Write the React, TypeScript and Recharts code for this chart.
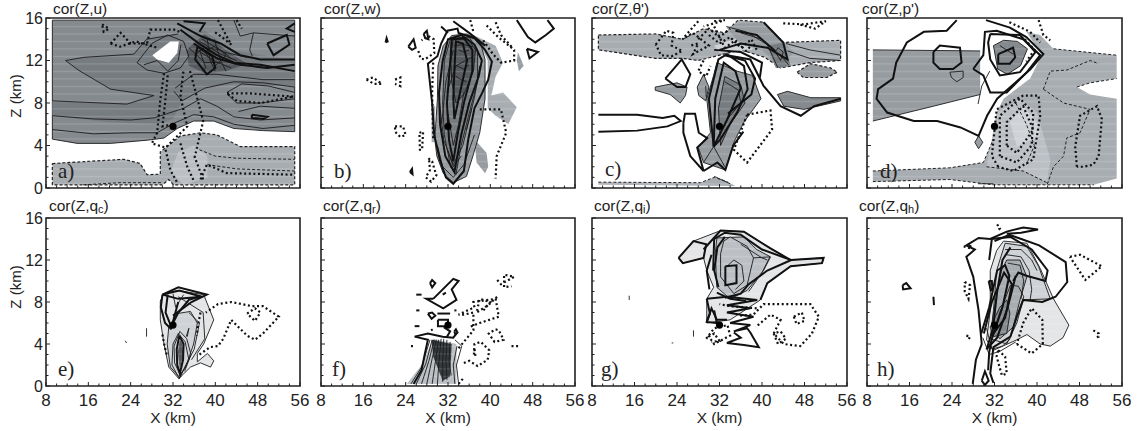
import React from 'react';
import { ScatterChart, Scatter, XAxis, YAxis, ReferenceArea } from 'recharts';

type P = [number, number];

// ---------- categories / ticks ----------
const xTicks = [8, 10, 12, 14, 16, 18, 20, 22, 24, 26, 28, 30, 32, 34, 36, 38, 40, 42, 44, 46, 48, 50, 52, 54, 56];
const xMajor = [8, 16, 24, 32, 40, 48, 56];
const zTicks = [0, 1, 2, 3, 4, 5, 6, 7, 8, 9, 10, 11, 12, 13, 14, 15, 16];
const zMajor = [0, 4, 8, 12, 16];
const stormCore: P[] = [[32, 5.8]];

// ---------- panel a: cor(Z,u) ----------
const aUpper: P[] = [[9.2, 15.8], [55, 15.8], [55, 5.3], [49.1, 5.4], [43.5, 5.6], [39.7, 6.3], [35.9, 6.3], [32.8, 5.6], [30.3, 4.7], [27.1, 4.5], [20.2, 4.2], [13.9, 4.2], [9.2, 4.6]];
const aBand: P[] = [[9.2, 8.2], [23.3, 7.9], [28.4, 8.7], [20.2, 9.3], [14.1, 11.1], [11.7, 12], [15.2, 12.3], [24.6, 12.6], [27, 14], [33, 14.5], [38, 14.8], [43, 13], [55, 12], [55, 9.5], [44, 9.8], [38, 9.4], [33.7, 8.2], [32, 6.5], [29, 6], [20, 6.2], [9.2, 6.8]];
const aCore: P[] = [[34.5, 13], [38, 14.5], [42, 13], [46, 11.7], [42, 11], [38, 10.8], [35, 11.5]];
const aHole: P[] = [[28.1, 12.5], [29.4, 13], [31.5, 13.8], [33.1, 13.8], [32.8, 12.7], [31.2, 11.8], [29, 12.1]];
const aLower: P[] = [[9.2, 2.3], [15.8, 2.5], [22.7, 2.7], [25.8, 2.3], [27.1, 1.25], [29.6, 1.3], [29.6, 3.4], [33.4, 4.9], [37.2, 5.2], [40.3, 5], [44.7, 3.9], [55, 3.9], [55, 0.3], [32.1, 0.3], [31.2, 0.8], [30, 0.3], [9.2, 0.3]];
const aLowerCore: P[] = [[33, 3.4], [36, 4], [38.5, 3], [38.5, 1], [34, 0.3], [31.5, 1.5]];
const aT1: P[] = [[9.2, 5.5], [17, 5.1], [24, 5.2], [29, 5.2], [32.2, 6.1], [35.9, 6.9], [39.7, 6.7], [43.5, 6], [49, 5.6], [55, 5.9]];
const aT2: P[] = [[9.2, 6.8], [17, 6.5], [24, 6.4], [28.4, 6.6], [30.9, 7], [34, 7.5], [37.2, 8.4], [40.3, 7.7], [43.5, 6.7], [48.5, 6.4], [55, 6.6]];
const aT3: P[] = [[9.2, 8.2], [23.3, 7.9], [28.4, 8.7], [20.2, 9.3], [14.1, 11.1], [11.7, 12], [15.2, 12.3], [24.6, 12.6], [27, 14], [33, 14.5]];
const aT4: P[] = [[25.2, 11.8], [27.1, 11.1], [30.3, 10.8], [33.4, 11.3], [35, 12.4], [34, 13.8], [31, 14.4], [28, 13.6], [25.2, 11.8]];
const aT5: P[] = [[32.2, 9.1], [33.7, 8.2], [38, 9.4], [43.5, 10], [49, 9.9], [55, 9.5]];
const aT6: P[] = [[32.4, 9.4], [35.9, 10.7], [40.3, 10.7], [49, 10.2], [55, 10.2]];
const aT7: P[] = [[42.2, 9], [45, 9.8], [50, 9.6], [55, 9]];
const aT8: P[] = [[42.4, 8.8], [44, 8], [48.5, 8], [55, 8.4]];
const aT9: P[] = [[44.4, 7.2], [48.5, 7.7], [55, 7.5]];
const aT10: P[] = [[43.5, 15.8], [44.7, 14.3], [47.2, 14.6], [46.5, 13], [47, 12.4]];
const aT11: P[] = [[47.2, 14.6], [55, 14.3]];
const aT12: P[] = [[26.5, 11.6], [29, 12], [31, 11], [33, 12], [33.5, 13.5]];
const aHatch1: P[] = [[37, 13.8], [41, 12.6], [44, 12]];
const aHatch2: P[] = [[36.5, 13.3], [40.5, 12.2], [44, 11.6]];
const aHatch3: P[] = [[36.5, 13], [40, 11.9], [43, 11.3]];
const aHatch4: P[] = [[37.5, 14], [41.5, 12.8], [46, 12.3]];
const aHatch5: P[] = [[38, 12.8], [40, 13.4], [42, 12.5], [40, 11.5], [38, 12.8]];
const aHatch6: P[] = [[36, 12.5], [38, 13.2], [41, 13], [43, 12.2]];
const aHatch7: P[] = [[35, 13.2], [38, 11.8], [41, 11.8]];
const aHatch8: P[] = [[38.5, 14], [39, 12], [40, 11]];
const aHatch9: P[] = [[39.8, 14], [41, 12], [42, 11]];
const aHatch10: P[] = [[37, 13], [38.2, 11.3], [37.5, 11]];
const aK1: P[] = [[32.8, 15.5], [37.2, 14.3], [41, 13.6], [44.7, 12.5], [48.5, 12.1], [55, 12.1]];
const aK2: P[] = [[33.4, 14.9], [37.2, 13.5], [40.3, 12.5], [43.5, 11.8], [48.5, 11.6], [55, 11]];
const aK3: P[] = [[35.9, 13.6], [40.3, 12.2], [44.7, 11.6], [49.8, 11.3], [55, 11.6]];
const aK4: P[] = [[36.6, 13.3], [36.2, 12.1], [38.4, 10.7], [40, 11.3], [39.4, 12.4], [36.6, 13.3]];
const aK5: P[] = [[49.8, 13.6], [53.5, 14.4], [54, 13.5], [51, 12.5], [49.8, 13.6]];
const aK6: P[] = [[46.9, 6.9], [49.8, 6.7], [49.1, 6.5], [46.9, 6.6], [46.9, 6.9]];
const aK7: P[] = [[55, 15.5], [53.5, 15], [55, 14.7]];
const aK8: P[] = [[34, 15.7], [38, 15.5], [37, 14.7]];
const aD1: P[] = [[18.6, 15.4], [19.9, 15], [18.9, 14.7], [18.6, 15.4]];
const aD2: P[] = [[20.2, 13.6], [22.1, 14.6], [24, 13.6], [27.1, 13.6], [27.7, 14.9], [32.2, 14.9], [33.7, 14.6]];
const aD3: P[] = [[20.2, 13.6], [22, 13.3], [25, 13.8], [29, 13.2]];
const aD4: P[] = [[30.3, 10.8], [29.6, 8.3], [29, 5.2], [28, 4.2], [30.6, 3.8], [34.7, 5.8], [33.4, 8.6], [34, 11.1]];
const aD5: P[] = [[31, 10.6], [30.5, 8], [30, 5.8], [32.2, 6]];
const aD6: P[] = [[35.2, 11], [36.4, 8.8], [37.7, 6.3], [36.1, 2.9], [37.7, 0.8]];
const aD7: P[] = [[30.6, 3.6], [31.5, 1.7], [32.8, 0.5]];
const aD8: P[] = [[33.4, 4.2], [34.7, 2], [36, 0.6]];
const aD9: P[] = [[37.2, 0.8], [38.4, 2.2], [42.2, 1.4], [55, 1.25]];
const aD10: P[] = [[42.2, 8.9], [46.6, 8.9], [54.8, 8.6], [48.5, 8], [44.1, 8.2], [42.2, 8.9]];
const aD11: P[] = [[40.5, 15.8], [42, 14.4], [43, 13.5], [41, 14.3], [39.8, 14.7]];
const aD12: P[] = [[44, 15.8], [45, 15]];
const aDash1: P[] = [[37, 3.6], [40, 3], [44, 2.8], [55, 2.7]];
const aDash2: P[] = [[38.5, 2.2], [44, 1.8], [55, 1.6]];
const aDash3: P[] = [[15, 0.3], [22, 0.5], [30, 0.5]];

// ---------- panel b: cor(Z,w) ----------
const bMain: P[] = [[32.7, 14.35], [35.5, 14.5], [38, 13.9], [39, 12.1], [39, 8.4], [38, 5.2], [36.7, 3], [35.5, 1.1], [33, 0.5], [31.1, 1.4], [29.9, 3], [29.5, 4.6], [30, 8.4], [30.1, 11.5], [31.1, 13.4]];
const bMid: P[] = [[32.5, 14.1], [36, 14.2], [37.6, 13], [37.6, 10], [36, 7], [34.5, 4], [33.5, 1.3], [32.5, 2], [31.3, 5], [31, 8], [31.3, 12]];
const bInner: P[] = [[33, 14], [35.8, 14], [37.2, 13], [36.8, 11], [35, 8.8], [33.5, 8], [32.7, 10], [32.5, 12.5]];
const bPale: P[] = [[36.8, 14.4], [41, 13.4], [42.4, 11.8], [41, 10.5], [40.2, 8.7], [42.4, 9], [45, 7.6], [43.4, 6], [41, 6.8], [39.5, 7.5], [39.5, 10], [39.5, 12], [38, 13.6]];
const bLobe: P[] = [[37, 4.6], [39.3, 3.3], [39.6, 2], [39, 1.4], [37.4, 2.4]];
const bStrip: P[] = [[28.9, 7.7], [29.6, 7.7], [29.4, 4.3], [28.9, 4.3]];
const bTip: P[] = [[45.2, 12.8], [46.3, 11.5], [45.4, 11], [45, 12]];
const bK1: P[] = [[28.5, 10.3], [28.2, 11.7], [30, 12.4], [30.7, 13.6], [31.9, 14.8], [33.8, 15], [34, 14.6], [37, 14.1], [39, 13], [40.3, 11.9], [39.6, 10.2], [38.5, 9], [37, 7.5], [35.8, 4.5], [35, 1.6], [33, 0.4], [31.6, 1], [30.5, 2.6], [29.4, 5], [29, 8], [28.5, 10.3]];
const bK2: P[] = [[31, 12], [32, 14], [34.5, 14.4], [37, 13.5], [38.4, 12], [37.8, 10.5], [36, 8], [34.5, 5], [33.2, 1.5], [31.5, 3], [30.5, 6], [30.3, 9], [31, 12]];
const bK3: P[] = [[32.5, 12.4], [32.7, 14], [35, 14.1], [36.6, 13], [36.6, 11], [35, 8], [33.8, 5], [33, 2.5], [32.2, 4.5], [31.8, 8], [32.5, 12.4]];
const bK4: P[] = [[33.3, 12], [33.5, 13.8], [34.8, 13.6], [35.6, 12], [34.5, 9.5], [33.2, 6.5], [33, 8.5], [33.3, 12]];
const bK5: P[] = [[33, 15.7], [36, 14.6], [39, 13.4]];
const bK6: P[] = [[30.7, 15.2], [32, 14.6]];
const bK7: P[] = [[45, 15.8], [47.1, 14.2], [48.5, 13.7], [50.5, 14.4], [52, 15], [50.8, 15.8]];
const bK8: P[] = [[24.5, 13.3], [25.5, 14], [25.9, 13.2], [25.2, 13], [24.5, 13.3]];
const bK9: P[] = [[27.4, 14.5], [28, 14.8], [28.3, 14], [27.7, 14.1], [27.4, 14.5]];
const bK10: P[] = [[46.9, 13.1], [49, 12.8], [47.4, 12.2], [46.9, 13.1]];
const bK11: P[] = [[24.8, 1.5], [25.2, 1.8], [25.3, 1.3], [24.8, 1.5]];
const bK12: P[] = [[20.2, 13.7], [20.4, 14.1], [20.6, 13.8], [20.2, 13.7]];
const bT1: P[] = [[31.8, 9], [33.5, 11.5], [36.8, 12.4]];
const bT2: P[] = [[30.8, 6], [31.6, 10], [33, 13]];
const bT3: P[] = [[35.5, 5.5], [37, 8.5], [38, 11.5]];
const bT4: P[] = [[32, 3.5], [33, 2], [34.5, 3]];
const bT5: P[] = [[34, 13], [35, 12.8], [36, 13]];
const bT6: P[] = [[33.6, 11.5], [35, 11.2], [36, 11.6]];
const bT7: P[] = [[33.5, 10.5], [34.5, 10.2], [35.5, 10]];
const bT8: P[] = [[33.2, 13.4], [35, 13.5], [36.6, 13.3]];
const bT9: P[] = [[32, 7], [33, 4], [34, 6], [35, 9]];
const bT10: P[] = [[30, 4], [31, 2], [33, 1], [35, 2.2], [37, 5]];
const bT11: P[] = [[30.4, 8], [31.2, 4.5], [33, 2.2], [34.8, 4], [36.5, 7.5]];
const bD1: P[] = [[26.4, 12.9], [26.8, 12.2], [27.6, 12.1], [29.4, 12.7], [29.3, 14], [28.3, 14.3], [27, 13.9]];
const bD2: P[] = [[16.6, 10.2], [17.8, 10.4], [19.5, 9.8], [18, 9.8], [16.6, 10.2]];
const bD3: P[] = [[22, 10.2], [23, 10.4], [23, 9.6], [22, 9.8]];
const bD4: P[] = [[22, 5.8], [23.5, 5.8], [24, 5], [23, 4.8], [22, 5.3], [22, 5.8]];
const bD5: P[] = [[26.6, 5.2], [27.3, 5.3], [27.1, 3.6], [26.7, 3.6], [26.6, 5.2]];
const bD6: P[] = [[28.3, 2.8], [29, 2.5], [29.8, 1.2], [28.8, 0.6], [27.8, 1], [28.6, 1.7], [28.4, 2.8]];
const bD7: P[] = [[36.2, 15.8], [36.8, 14.7]];
const bD8: P[] = [[39.3, 15.3], [41.5, 14.2], [44.5, 13], [44.5, 12], [42, 11.8], [40.5, 12.6], [38.5, 14]];
const bD9: P[] = [[41, 15.6], [42, 14.4], [44, 13.3]];
const bD10: P[] = [[38, 7.4], [42, 7.4], [43, 5.2], [41.2, 3], [41, 0.9]];
const bD11: P[] = [[29.2, 11.8], [29, 9], [29.2, 4.6]];

// ---------- panel c: cor(Z,theta') ----------
const cBand: P[] = [[9.2, 14.4], [20, 14.5], [25, 14], [29, 15], [33, 14.6], [35.5, 15.8], [40.3, 15.6], [44, 13.7], [54.8, 13.9], [54.8, 12], [49, 11.8], [43.5, 11.3], [40.5, 12.3], [36, 13], [32, 12.5], [28, 12], [25, 12.2], [20, 12.2], [9.2, 13]];
const cPaleGap: P[] = [[31, 13.4], [36, 14.2], [39.5, 14], [38, 13], [35, 12.9], [32, 12.7]];
const cTopDark: P[] = [[33.3, 15.1], [36, 15.5], [40, 15.5], [44, 13.7], [46, 12.8], [43.5, 11.3], [40, 13], [36, 13.5]];
const cRightDark: P[] = [[41, 13.4], [44.1, 13.7], [45.4, 11.5], [42.6, 11.3]];
const cEllipse: P[] = [[46.6, 10.9], [49.1, 11.7], [52.9, 11.3], [54.2, 10.9], [52.2, 10.4], [47.8, 10.4]];
const cWedgeL: P[] = [[19.9, 9.5], [24, 9.9], [25.9, 9.5], [25.6, 8.7], [24.6, 8], [22.7, 8.8], [19.9, 9.2]];
const cLeaf: P[] = [[27.8, 9.5], [29, 10.7], [30, 9.5], [29.4, 8.2], [28.1, 8.7]];
const cCoreFill: P[] = [[31.5, 11.8], [35.3, 11], [38.2, 10.6], [39.8, 8.4], [36.6, 6.2], [34.7, 4.3], [33.1, 1.7], [29, 2.4], [28, 3.8], [30.3, 5.2], [29.6, 8.4], [30.9, 10.6]];
const cCoreDark: P[] = [[33, 10.5], [36, 9.7], [36.8, 8], [34, 6], [32.2, 4], [31.8, 7.5]];
const cWedgeR: P[] = [[42.9, 8.8], [44.8, 9.1], [49.2, 8.5], [54.8, 8.5], [54.8, 8.2], [47.9, 7.4], [44.1, 7.7]];
const cBottom: P[] = [[9.2, 0.55], [28.4, 0.5], [31, 1], [33.5, 0.6], [35, 0.2], [9.2, 0.3]];
const cK1: P[] = [[9.2, 6.9], [16.5, 6.9], [21.3, 6.6], [23.5, 6.8], [24.7, 6.3], [22.2, 5.8], [16.5, 5.4], [9.2, 5.3]];
const cK2: P[] = [[25.2, 6.1], [25.5, 7], [27.4, 7], [28.1, 5.2], [29.7, 4.7], [27.8, 3.8], [29, 1.6], [26.5, 3], [25.2, 5.2], [25.2, 6.1]];
const cK3: P[] = [[29, 1.6], [31.6, 2.4], [33.1, 1.7], [34.6, 4], [36.5, 5.3]];
const cK4: P[] = [[21.8, 10.3], [24.9, 12.1], [26.5, 10.7], [25.6, 9.5], [24, 9.5], [21.8, 10.3]];
const cK5: P[] = [[30.9, 3.9], [30, 8.4], [31.8, 12.1], [33.4, 12.6], [36.6, 11.5], [37.3, 9.3], [35.3, 7.1], [32.2, 4.6], [30.9, 3.9]];
const cK6: P[] = [[30.9, 3.9], [31.2, 8.4], [32.8, 11.8], [35, 11], [36, 9.4], [33.4, 6.4], [30.9, 3.9]];
const cK7: P[] = [[33.4, 12.5], [37.8, 12.1], [40.3, 9.6], [43.5, 7.7], [47.3, 6.8], [49.8, 7.7], [54.8, 8.4]];
const cK8: P[] = [[33, 12.5], [36.8, 12], [38.7, 10.3], [38, 8.8], [33.6, 7]];
const cK9: P[] = [[40.3, 15.6], [44, 13.7], [44.8, 12.1], [41, 13.2], [36, 13.6], [32, 13]];
const cK10: P[] = [[31, 13], [36, 12.8], [40, 11.8], [39.6, 10.4]];
const cK11: P[] = [[35, 14.8], [39, 14.4], [42.5, 12.9]];
const cT1: P[] = [[33.3, 15.2], [37, 14.7], [41, 13.5], [43, 11.3]];
const cT2: P[] = [[36, 14.6], [40, 14], [44, 12.2], [45, 11.6]];
const cT3: P[] = [[44.5, 13.6], [49, 13], [54.8, 12.5]];
const cT4: P[] = [[44.8, 12.9], [49, 12.2], [54.8, 12]];
const cT5: P[] = [[42.5, 12.8], [43.5, 12], [44, 12.8], [43, 13.2], [42.5, 12.8]];
const cT6: P[] = [[31, 1.1], [34, 0.4]];
const cT7: P[] = [[29, 2.4], [30.9, 3.9], [33, 2]];
const cT8: P[] = [[33, 10], [35.6, 9.2], [36, 8], [33.5, 6.5]];
const cT9: P[] = [[29.4, 9.6], [29.5, 8.6]];
const cD1: P[] = [[37.2, 6.9], [41.6, 7.3], [41.9, 5.5], [37.2, 2.4], [34.7, 3.6], [37.2, 6.9]];
const cD2: P[] = [[20, 13.5], [22, 14.8], [23.3, 14.6], [23, 13.4], [25, 12.9], [23, 12.4], [21, 12.5], [20, 13.5]];
const cD3: P[] = [[28, 15.7], [25, 14], [27, 14.6], [30, 13.4], [27, 12.6], [28, 13.6], [26.5, 13.4]];
const cD4: P[] = [[30, 14.4], [32, 13.6], [34, 14.2], [36, 13.2], [38, 14], [39, 13]];
const cD5: P[] = [[31, 15.2], [33, 13.2], [35, 13.9], [37, 12.9], [38, 13.4]];
const cD6: P[] = [[29, 12], [28, 11], [29.5, 10.5], [30.3, 11.5]];
const cD7: P[] = [[44, 15.5], [48, 15.4], [52, 15.7], [50, 15], [47, 15.4]];
const cD8: P[] = [[31, 15.7], [33, 15.8], [29, 15.2]];
const cD9: P[] = [[28, 14], [30, 15], [32, 14.2], [34, 15]];
const cDash1: P[] = [[9.2, 0.55], [28.4, 0.5], [31, 1], [33.5, 0.6]];

// ---------- panel d: cor(Z,p') ----------
const dUpper: P[] = [[9.1, 13], [29.3, 12.9], [29.3, 8.8], [20.5, 7.7], [9.1, 6.3]];
const dLight: P[] = [[40.6, 14.4], [43.1, 13.1], [55, 12.5], [55, 10.3], [50, 9.9], [47.5, 9.5], [50, 8.8], [55, 8.4], [55, 0.9], [50.7, 0.3], [31.8, 0.3], [23.6, 0.8], [9.1, 0.6], [9.1, 1.6], [23.6, 1.9], [29.9, 2.4], [31.8, 4.6], [32.4, 7.1], [33.7, 8.4], [38.7, 10.3], [40.9, 12.5], [38, 14.7]];
const dInner: P[] = [[30.5, 2], [37.4, 1.6], [41.9, 0.5], [42.5, 2.7], [40, 7.1], [36.8, 8.4], [32.4, 7.1], [31.5, 4.6]];
const dLightest: P[] = [[34.9, 6.2], [37.4, 7.7], [40, 6.2], [40.6, 4.9], [36.2, 3.9]];
const dCore: P[] = [[31.8, 13.4], [33.7, 13.9], [36.3, 13.8], [38.2, 13.1], [36.9, 11.5], [34.4, 10.7], [32.6, 11.2]];
const dSmall: P[] = [[23.6, 10.9], [26.1, 11], [26.1, 10.4], [24.9, 10], [23.9, 10.4]];
const dLeaf: P[] = [[29, 4.9], [28.3, 4.3], [29, 3.7], [29.8, 4.3]];
const dK1: P[] = [[24.9, 15.8], [23, 14.8], [18.7, 14.7], [15.5, 13.7], [13.5, 11.8], [12.9, 10.3], [10.1, 9.3], [9.8, 8.4], [11.8, 7.1], [16.8, 6.3], [21.2, 6.3], [25.6, 5.7], [29, 4.9], [30.6, 6.8], [32.5, 8.4], [35, 9.5], [38.8, 11.2], [41.2, 12.6], [38, 14.2], [34.9, 15.1], [30.4, 15.8]];
const dK2: P[] = [[28, 11.2], [29.9, 12.5], [30.2, 14.7], [32.4, 14.8], [37.4, 14], [40.6, 12.5], [38.1, 10.9], [34.3, 9], [31.2, 9], [29.9, 10.6], [28, 11.2]];
const dK3: P[] = [[31.2, 14.5], [36.8, 14.4], [39.7, 12.8], [36.8, 10.9], [33, 10.6], [31.2, 12.1], [30.8, 13.7], [31.2, 14.5]];
const dK4: P[] = [[32.7, 12.6], [35.5, 13.2], [35.9, 12.3], [34.9, 11.7], [32.7, 11.7], [32.7, 12.6]];
const dK5: P[] = [[20.5, 12.8], [21.7, 13.4], [25.5, 13.2], [25.8, 11.8], [24.2, 11.2], [21.7, 11.2], [20.5, 11.8], [20.5, 12.8]];
const dT1: P[] = [[28.9, 7.9], [29.6, 9.6], [31.1, 11]];
const dT2: P[] = [[33, 13.4], [35.5, 12.6]];
const dT3: P[] = [[28.9, 0.4], [31.8, 0.4]];
const dT4: P[] = [[9.1, 13], [29.3, 12.9]];
const dT5: P[] = [[9.1, 6.3], [20.5, 7.7], [29.3, 8.8]];
const dD1: P[] = [[47.5, 2], [47.2, 3.9], [48.1, 6.8], [51.3, 7.7], [52.2, 6.5], [51.6, 3], [50.6, 2.2], [48.8, 2], [47.5, 2]];
const dD2: P[] = [[32.7, 2], [31.5, 3], [32.4, 7.4], [37.4, 8.7], [40.3, 8.7], [40.6, 6.8], [39.3, 2.7], [35.5, 1.6], [32.7, 2]];
const dD3: P[] = [[33, 3], [33, 6.8], [36.8, 8.4], [39.3, 7.1], [39, 4], [36.2, 2.4], [33, 3]];
const dD4: P[] = [[34.3, 4], [34.3, 6.2], [37.4, 7.7], [39.3, 5.5], [36.2, 3.3], [34.3, 4]];
const dD5: P[] = [[40.3, 15.8], [41.2, 14.4], [42.5, 13.9]];
const dD6: P[] = [[37.7, 14], [39.5, 13], [38, 11.9]];
const dD7: P[] = [[34.8, 15.6], [38.7, 14.7], [40.6, 13.7]];
const dDash1: P[] = [[41.2, 9.3], [42.5, 11], [45.6, 11.1], [50, 12], [51.6, 11.7]];
const dDash2: P[] = [[41.2, 9.3], [45, 8], [50, 7.4], [48.1, 5.2], [45.6, 4.7], [45, 3], [43.1, 2], [41.9, 0.3]];
const dDash3: P[] = [[30.5, 2], [37.4, 1.6], [41.9, 0.5]];
const dDash4: P[] = [[36, 8], [38, 6], [39.5, 4], [38, 2.2]];
const dDash5: P[] = [[9.1, 1.6], [23.6, 1.9], [29.9, 2.4], [31.8, 4.6]];
const dDash6: P[] = [[9.1, 0.6], [23.6, 0.8], [31.8, 0.3], [50.7, 0.3]];
const dDash7: P[] = [[47.5, 9.5], [50, 9.9], [55, 10.3]];
const dDash8: P[] = [[43.1, 13.1], [55, 12.5]];

// ---------- panel e: cor(Z,qc) ----------
const eOuter: P[] = [[30.3, 8.8], [32.8, 9.1], [37.8, 8.7], [39.7, 6.3], [37.8, 4], [36.6, 3.1], [36.6, 2.3], [38.5, 3.1], [39.7, 2.4], [39.1, 1.8], [37.2, 2.2], [35.3, 1.8], [33.1, 0.7], [31.2, 1.8], [30.3, 4], [29.6, 6.3], [29.6, 8.1]];
const eMid: P[] = [[32.8, 6.9], [35.3, 7.1], [36.6, 6], [35.9, 4], [34.4, 1.8], [33.1, 0.9], [31.5, 1.8], [30.9, 4], [31.2, 5.6]];
const eDark: P[] = [[33.3, 4.4], [32.9, 3.2], [33.3, 1.6], [33.9, 3], [33.8, 4]];
const eK1: P[] = [[30, 8.7], [33, 9.4], [38.4, 8.7], [35.5, 8], [32, 6.7]];
const eK2: P[] = [[30, 8.7], [33.2, 9.1], [37.5, 8.5], [33, 8.3], [30, 8.7]];
const eK3: P[] = [[30, 8.7], [29.7, 7.5], [30.5, 6], [31.5, 5.5], [33, 7], [35, 8.2], [37, 8.5]];
const eK4: P[] = [[31, 8.7], [30.6, 7], [31.7, 5.6], [33, 8]];
const eK5: P[] = [[33.2, 4.8], [32.7, 3.5], [32.8, 2], [33.3, 1.2], [33.9, 2.5], [34, 4], [33.2, 4.8]];
const eT1: P[] = [[33, 5], [34.3, 4.2], [35, 2.5], [33.2, 0.7], [31.8, 2], [32, 4], [33, 5]];
const eT2: P[] = [[35, 7], [37, 6], [36, 3.5], [33.1, 0.7]];
const eT3: P[] = [[33, 8.5], [37.7, 7], [38, 4.5], [35.5, 2.5]];
const eT4: P[] = [[34.5, 4.7], [35, 5.5], [34.7, 4.7]];
const eT5: P[] = [[32, 8.8], [32.5, 7.5], [34, 8.7]];
const eT6: P[] = [[27, 5.5], [27, 4.7]];
const eT7: P[] = [[33.5, 0.9], [32.3, 2.2], [32.2, 3.8], [33.3, 5.2], [34.6, 4.5], [35.4, 3], [34.2, 1.4]];
const eT8: P[] = [[23, 4.3], [23.2, 4.1]];
const eD1: P[] = [[37, 3], [39, 3.7], [40.5, 3.8], [41.5, 4.5], [43, 6.3], [46, 4.8], [47.5, 4.4], [49, 5], [52, 6.6], [49, 7.6], [47, 7.6], [43, 8], [40.5, 7.8], [38.2, 7]];
const eD2: P[] = [[46, 6.9], [47.5, 7.4], [48.5, 7], [47.5, 6.2], [46, 6.9]];
const eD3: P[] = [[37.2, 7], [36.8, 6], [36.5, 4.8]];
const eD4: P[] = [[30, 4.9], [30.4, 3.8], [30.8, 3]];

// ---------- panel f: cor(Z,qr) ----------
const fBase: P[] = [[24.2, 0.2], [27, 2], [29.2, 4.5], [33.6, 4], [33.6, 0.2]];
const fCore: P[] = [[28.9, 4.4], [32.7, 4], [32.4, 0.9], [31, 0.5], [29.2, 2.8]];
const fK1: P[] = [[29.2, 8.3], [33, 10.2], [34, 10], [32.7, 9.2], [33.6, 8.2], [31.1, 7.4], [27.9, 8.3], [29.2, 8.3]];
const fK2: P[] = [[28.6, 9.8], [29, 10.1], [29.6, 9.8], [29, 9.4], [28.6, 9.8]];
const fK3: P[] = [[30.1, 6.3], [32, 6.3], [32, 5.7], [30.1, 5.7], [30.1, 6.3]];
const fK4: P[] = [[25.7, 4.7], [28.2, 5], [31, 4.7], [33, 4.6], [33.6, 5]];
const fK5: P[] = [[25.7, 4.7], [28.2, 4.4], [27.6, 3], [27, 1.5], [25.5, 0.2]];
const fK6: P[] = [[28.2, 6.9], [29, 7], [29.6, 6.7], [28.9, 6.4], [28.2, 6.9]];
const fK7: P[] = [[33.2, 5.2], [33.5, 5.4], [33.8, 5.1], [33.4, 4.9], [33.2, 5.2]];
const fK8: P[] = [[30, 6.9], [32.4, 6.9]];
const fK9: P[] = [[26, 8.7], [27, 8.7]];
const fK10: P[] = [[31, 8.7], [31.6, 8.9]];
const fK11: P[] = [[26, 7.2], [26.6, 7.2]];
const fK12: P[] = [[33.2, 7.2], [33.6, 7.2]];
const fK13: P[] = [[25.7, 5.7], [26.6, 5.7]];
const fK14: P[] = [[28.8, 5.3], [29.1, 5.4]];
const fK15: P[] = [[31.2, 5.6], [32.4, 5.2], [31.8, 4.7]];
const fT1: P[] = [[25, 0.2], [27, 1.8], [28.6, 4.4]];
const fT2: P[] = [[26, 0.2], [27.8, 2.1], [29, 4.4]];
const fT3: P[] = [[27, 0.2], [28.4, 2.4], [29.4, 4.4]];
const fT4: P[] = [[28, 0.2], [29, 2.6], [29.8, 4.4]];
const fT5: P[] = [[29, 0.2], [29.7, 2.6], [30.2, 4.4]];
const fT6: P[] = [[30, 0.2], [30.3, 2.4], [30.7, 4.5]];
const fT7: P[] = [[31, 0.4], [31, 2.4], [31.2, 4.5]];
const fT8: P[] = [[31.8, 0.6], [31.6, 2.4], [31.8, 4.4]];
const fT9: P[] = [[33.3, 0.2], [33, 2], [33.7, 3.8]];
const fT10: P[] = [[34, 0.2], [33.6, 2], [34.6, 3.8], [33.3, 4.4]];
const fT11: P[] = [[32.6, 1], [32.2, 2.4], [32.4, 4.2]];
const fD1: P[] = [[34, 3.6], [36.8, 5.3], [36.8, 7], [35, 6.8], [34, 6.8], [37, 7.5], [36.8, 8], [41, 8.3], [41.6, 6.6], [38, 6], [36, 5.6]];
const fD2: P[] = [[35, 2.2], [36, 2.4], [37.6, 1.9], [39.5, 2.5], [39.8, 3.4], [38.2, 4.2], [37, 4], [36.9, 3]];
const fD3: P[] = [[38.7, 7.2], [40, 8], [38, 8.3], [37.4, 7], [39.6, 7.7], [41.5, 8.6]];
const fD4: P[] = [[41.3, 10.1], [42, 9.7], [44.5, 10.4], [42.6, 10.6], [42.6, 9.4], [44, 9.5]];
const fD5: P[] = [[41, 5.4], [41.6, 5.3], [42.5, 4.4], [40.8, 4.2], [39.7, 5], [41, 5.4]];
const fD6: P[] = [[44, 3.8], [45.5, 3.8]];
const fD7: P[] = [[34, 0.2], [35, 0.8]];
const fD8: P[] = [[37, 3.5], [37.2, 2.8]];
const fD9: P[] = [[25, 3.8], [25.6, 3.8]];

// ---------- panel g: cor(Z,qi) ----------
const gOuter: P[] = [[24.3, 12.2], [27.1, 13.8], [32.2, 14.8], [36.6, 14.7], [41.6, 13.1], [45.4, 12], [51.6, 12.2], [51.3, 11.7], [45.4, 11.4], [41, 9.8], [39.7, 8.2], [34, 6.3], [29.6, 6], [29.6, 8.3], [30.9, 9.4], [29.6, 11], [29, 12.2], [25.1, 11.7]];
const gMid: P[] = [[31.5, 14.1], [36.6, 14.2], [39, 13], [41.6, 12.3], [40.3, 11], [37.2, 9.1], [34, 8.3], [31.5, 9.4], [31.2, 12.6]];
const gDark: P[] = [[32.8, 13.8], [34, 14.2], [37.2, 13.3], [38.4, 12.2], [37.2, 9.6], [34.7, 8.8], [32.2, 10.4], [32.2, 12.6]];
const gK1: P[] = [[24.3, 12.2], [27.1, 13.8], [29.5, 13.5], [29, 12.2], [25.1, 11.7], [24.3, 12.2]];
const gK2: P[] = [[29, 13], [32.2, 14.8], [36.6, 14.7], [41.6, 13.1], [45.4, 12], [51.6, 12.2], [51.3, 11.7], [45.4, 11.4], [41, 9.8], [39.7, 8.2]];
const gK3: P[] = [[30.8, 11], [31, 14], [33, 14.6], [36, 14.4], [40, 13], [45.5, 12], [41, 11], [37.5, 9.7], [36, 8.8], [33, 8.4]];
const gK4: P[] = [[33.1, 11.4], [35.2, 11.5], [35.2, 9.8], [33.1, 9.6], [33.1, 11.4]];
const gK5: P[] = [[29.6, 8.3], [33.4, 8.5], [39.1, 8.2], [33.4, 7.7], [37.8, 7.4], [33.4, 7], [38.4, 6.6], [34, 6], [37.8, 5.8], [34.7, 5.2], [37.2, 5.5], [37.8, 5.1], [39.4, 3.7], [36.6, 3.9], [33.4, 4.1], [36, 4.6], [34.7, 5.1]];
const gK6: P[] = [[29.6, 6.1], [30.5, 7.4], [31.5, 6.3], [33.4, 6.3]];
const gK7: P[] = [[29.6, 8.3], [30.2, 6.9], [29.6, 6.1], [31.5, 6], [31, 7.2]];
const gK8: P[] = [[31.8, 9.4], [31, 11], [31.6, 13.2], [33, 14.2]];
const gK9: P[] = [[30.1, 9.2], [29.6, 11], [30.5, 12.5]];
const gK10: P[] = [[31.5, 8.9], [34, 8.3], [37, 8.1]];
const gT1: P[] = [[32.8, 13.8], [34, 14.2], [37.2, 13.3], [38.4, 12.2], [37.2, 9.6], [34.7, 8.8], [32.2, 10.4], [32.2, 12.6], [32.8, 13.8]];
const gT2: P[] = [[33.4, 11.4], [34.7, 12], [36.2, 11.5], [36.6, 10], [35, 9.2]];
const gT3: P[] = [[38.4, 12.2], [41.5, 12.3], [40, 10.8], [37.5, 9]];
const gT4: P[] = [[36, 13.5], [40, 12.2], [41, 12]];
const gT5: P[] = [[15, 8.6], [15, 8.2]];
const gT6: P[] = [[27.1, 5.3], [27.1, 4.7]];
const gT7: P[] = [[23, 4.1], [23.3, 4.1]];
const gD1: P[] = [[35.9, 6.7], [38.4, 6.8], [40.3, 7.8], [49.1, 7.8], [50.7, 6.6], [49.4, 5], [47.2, 3.8], [44.1, 4], [42.2, 5], [43.5, 6.3], [41.6, 6.8], [38.8, 5.6]];
const gD2: P[] = [[42.2, 5], [43, 4], [44.5, 4.5], [43.5, 5.2], [42.2, 5]];
const gD3: P[] = [[46, 6.6], [47.5, 7], [48, 6.2], [46.5, 5.9], [46, 6.6]];
const gD4: P[] = [[29.5, 4.5], [31, 5.5], [33.5, 5.8], [34, 4.8], [31, 4], [30, 4.7], [31, 5], [32, 4.3], [30.5, 4.2]];
const gD5: P[] = [[39, 7.4], [34, 7.6], [32, 7.8]];

// ---------- panel h: cor(Z,qh) ----------
const hOuter: P[] = [[33.7, 13.8], [38.1, 13.6], [40.6, 11.2], [43.1, 8.3], [46, 5.8], [44.9, 4.6], [42.5, 3.8], [40.6, 4], [38.1, 4.9], [36.2, 4.4], [31.8, 3.4], [30.5, 4.4], [31.2, 7.2], [31.2, 11], [32.4, 12.9]];
const hMid: P[] = [[34, 13.6], [38.1, 13.3], [40.3, 11.4], [42.5, 8.3], [37.4, 8.2], [36.2, 6], [34.3, 4], [31.2, 4.5], [31.8, 7.2], [32.4, 11]];
const hDark: P[] = [[34.3, 12], [36.8, 12], [38.1, 10.4], [36.8, 8.2], [35.5, 5.6], [33, 4.5], [31.4, 5.5], [32.4, 8.8], [33.3, 11]];
const hCore: P[] = [[33, 7.5], [34.3, 8.2], [34.9, 6.9], [34.3, 5], [31.8, 4.7], [31.2, 5.6]];
const hK1: P[] = [[32, 13.8], [34.8, 14.4], [40.4, 13.4], [45.4, 11.8], [45.7, 9.9], [43.5, 8.5], [41, 8], [37.4, 8.2], [36.2, 6.6], [35, 4.7], [31.8, 3.7], [31.2, 1.2], [31.8, 0.3]];
const hK2: P[] = [[27.9, 0.2], [28.5, 2.5], [29.6, 4], [29, 7.2], [28, 10.4], [26.7, 12.3], [28.3, 13], [26.7, 13.4], [29, 14.1], [31.2, 14], [34.3, 14.7], [37.4, 15.1], [40.2, 14.9], [37, 14.6], [34.3, 14.5]];
const hK3: P[] = [[29.6, 0.5], [30.2, 1.4], [30.9, 0.5], [30.2, 0.1], [29.6, 0.5]];
const hK4: P[] = [[14.7, 9.6], [15.4, 9.8], [16.2, 9.3], [14.8, 9.2], [14.7, 9.6]];
const hK5: P[] = [[20.5, 8.5], [20.6, 7.7]];
const hK6: P[] = [[31, 12], [31.5, 14], [35, 14.2], [39, 13], [42, 11], [41.6, 10], [38, 10.5], [36.5, 10.8], [35.5, 10]];
const hK7: P[] = [[35, 13.2], [33.5, 12], [32.5, 9], [31.7, 5.4], [30.5, 3.5], [32.5, 4.6], [34.5, 7.5], [36, 10.5]];
const hK8: P[] = [[30.9, 10], [31.3, 9.1], [31.6, 9.2], [31.5, 10], [30.9, 10]];
const hK9: P[] = [[29.5, 5], [31, 7.5], [32.5, 11], [34, 11.5], [34.8, 10.5], [33.5, 7.5], [31.5, 4.5], [31, 3.2], [30.8, 1.5]];
const hK10: P[] = [[30, 5], [31.5, 8], [33.8, 10.8], [35.3, 9.7], [34, 6.5], [31.5, 4.8]];
const hT1: P[] = [[31.5, 4.7], [33, 7], [35, 9.6], [36.5, 9.5], [37.5, 8.5], [36.5, 7]];
const hT2: P[] = [[34, 13], [37, 13], [39, 12], [40, 11]];
const hT3: P[] = [[34.3, 12.5], [37, 12.3], [38.5, 11], [39, 9.2], [38.7, 8.2]];
const hT4: P[] = [[34.5, 11.7], [36.8, 11.5], [37.5, 10], [37, 8.3]];
const hT5: P[] = [[29.8, 4.6], [31, 3], [33, 3.3], [36, 4.2]];
const hT6: P[] = [[30.5, 5.5], [31.5, 3.5], [33.5, 3.8], [35, 4.5]];
const hD1: P[] = [[26.4, 9.9], [27.4, 9.6], [27.1, 8.3], [26.4, 9], [26.4, 9.9]];
const hD2: P[] = [[26.2, 13.3], [27.6, 13.1], [27.3, 13.6], [26.8, 13.2]];
const hD3: P[] = [[32.5, 15.4], [33, 15], [32.6, 14.8]];
const hD4: P[] = [[26.7, 4.8], [27.4, 4.7], [27, 4.3]];
const hD5: P[] = [[32.7, 3.4], [34, 2.8], [34.3, 1.2], [33.4, 1], [32.4, 2.8], [32.7, 3.4]];
const hD6: P[] = [[36.2, 4], [39, 3.1], [41.1, 4], [41, 6.3], [39, 7.4], [37.4, 6], [36.2, 4]];
const hD7: P[] = [[46.2, 12.3], [48.1, 12.5], [52.2, 11.4], [49.1, 10.1], [46.2, 12.3]];
const hD8: P[] = [[50.6, 5.3], [51.6, 5], [51.6, 4.7], [50.8, 4.6]];

// ---------- drawing ----------
const INK = '#1c1c1c';
const COLORS: Record<string, string> = {
  s1: '#e3e5e7', s2: '#cfd2d6', s3: '#bcc0c5', s4: '#a8adb2', s5: '#979ca1', s6: '#858a8f', s7: '#777c81', s8: '#565a5e', s9: '#36393c',
};
const STYLES: Record<string, any> = {
  thin: { stroke: INK, strokeWidth: 0.9, fill: 'none' },
  thick: { stroke: '#111', strokeWidth: 2, fill: 'none' },
  dot: { stroke: '#111', strokeWidth: 2.2, strokeDasharray: '2 2.6', fill: 'none' },
  dash: { stroke: '#222', strokeWidth: 1, strokeDasharray: '3 2', fill: 'none' },
  dashEdge: { stroke: '#222', strokeWidth: 1.2, strokeDasharray: '3 2', fill: 'none' },
};

type Layer = { pts: P[]; fill?: string; kind?: string; edge?: string; blank?: boolean };
const F = (pts: P[], fill: string, edge?: string): Layer => ({ pts: [...pts, pts[0]], fill, edge });
const W = (pts: P[]): Layer => ({ pts: [...pts, pts[0]], blank: true });
const many = (kind: string, ...all: P[][]): Layer[] => all.map((pts) => ({ pts, kind }));

const layersA: Layer[] = [
  F(aUpper, 's6', 'thin'), F(aBand, 's7'), F(aCore, 's8'), W(aHole), F(aLower, 's4', 'dashEdge'), F(aLowerCore, 's3'),
  ...many('thin', aT1, aT2, aT3, aT4, aT5, aT6, aT7, aT8, aT9, aT10, aT11, aT12, aHatch1, aHatch2, aHatch3, aHatch4, aHatch5, aHatch6, aHatch7, aHatch8, aHatch9, aHatch10),
  ...many('dash', aDash1, aDash2, aDash3),
  ...many('thick', aK1, aK2, aK3, aK4, aK5, aK6, aK7, aK8),
  ...many('dot', aD1, aD2, aD3, aD4, aD5, aD6, aD7, aD8, aD9, aD10, aD11, aD12),
];
const layersB: Layer[] = [
  F(bPale, 's4'), F(bLobe, 's5'), F(bStrip, 's4'), F(bTip, 's5'), F(bMain, 's5', 'thin'), F(bMid, 's7', 'thin'), F(bInner, 's8', 'thin'),
  ...many('thin', bT1, bT2, bT3, bT4, bT5, bT6, bT7, bT8, bT9, bT10, bT11),
  ...many('thick', bK1, bK2, bK3, bK4, bK5, bK6, bK7, bK8, bK9, bK10, bK11, bK12),
  ...many('dot', bD1, bD2, bD3, bD4, bD5, bD6, bD7, bD8, bD9, bD10, bD11),
];
const layersC: Layer[] = [
  F(cBand, 's4', 'dashEdge'), F(cPaleGap, 's2'), F(cTopDark, 's5'), F(cRightDark, 's7'), F(cEllipse, 's5', 'dashEdge'), F(cWedgeL, 's5', 'thin'), F(cLeaf, 's5', 'thin'),
  F(cCoreFill, 's5', 'thin'), F(cCoreDark, 's7', 'thin'), F(cWedgeR, 's6', 'thin'), F(cBottom, 's4'),
  ...many('thin', cT1, cT2, cT3, cT4, cT5, cT6, cT7, cT8, cT9),
  ...many('dash', cDash1),
  ...many('thick', cK1, cK2, cK3, cK4, cK5, cK6, cK7, cK8, cK9, cK10, cK11),
  ...many('dot', cD1, cD2, cD3, cD4, cD5, cD6, cD7, cD8, cD9),
];
const layersD: Layer[] = [
  F(dUpper, 's5'), F(dLight, 's4'), F(dInner, 's3'), F(dLightest, 's2'), F(dCore, 's6', 'thin'), F(dSmall, 's5', 'thin'), F(dLeaf, 's5', 'thin'),
  ...many('thin', dT1, dT2, dT3, dT4, dT5),
  ...many('dash', dDash1, dDash2, dDash3, dDash4, dDash5, dDash6, dDash7, dDash8),
  ...many('thick', dK1, dK2, dK3, dK4, dK5),
  ...many('dot', dD1, dD2, dD3, dD4, dD5, dD6, dD7),
];
const layersE: Layer[] = [
  F(eOuter, 's1', 'thin'), F(eMid, 's2', 'thin'), F(eDark, 's8'),
  ...many('thin', eT1, eT2, eT3, eT4, eT5, eT6, eT7, eT8),
  ...many('thick', eK1, eK2, eK3, eK4, eK5),
  ...many('dot', eD1, eD2, eD3, eD4),
];
const layersF: Layer[] = [
  F(fBase, 's3'), F(fCore, 's9'),
  ...many('thin', fT1, fT2, fT3, fT4, fT5, fT6, fT7, fT8, fT9, fT10, fT11),
  ...many('thick', fK1, fK2, fK3, fK4, fK5, fK6, fK7, fK8, fK9, fK10, fK11, fK12, fK13, fK14, fK15),
  ...many('dot', fD1, fD2, fD3, fD4, fD5, fD6, fD7, fD8, fD9),
];
const layersG: Layer[] = [
  F(gOuter, 's1', 'thin'), F(gMid, 's3', 'thin'), F(gDark, 's3'),
  ...many('thin', gT1, gT2, gT3, gT4, gT5, gT6, gT7),
  ...many('thick', gK1, gK2, gK3, gK4, gK5, gK6, gK7, gK8, gK9, gK10),
  ...many('dot', gD1, gD2, gD3, gD4, gD5),
];
const layersH: Layer[] = [
  F(hOuter, 's1', 'thin'), F(hMid, 's2', 'thin'), F(hDark, 's4', 'thin'), F(hCore, 's6', 'thin'),
  ...many('thin', hT1, hT2, hT3, hT4, hT5, hT6),
  ...many('thick', hK1, hK2, hK3, hK4, hK5, hK6, hK7, hK8, hK9, hK10),
  ...many('dot', hD1, hD2, hD3, hD4, hD5, hD6, hD7, hD8),
];

type PanelDef = { id: string; left: number; top: number; w: number; h: number; layers: Layer[]; title: React.ReactNode; tx: number; ty: number; letter: string; lx: number; ly: number; yLabels: boolean; xLabels: boolean; zMid: number };
const sub = (s: string) => <span style={{ fontSize: 11, position: 'relative', top: 1.5 }}>{s}</span>;
const R1 = { top: 18, h: 170, zMid: 96 };
const R2 = { top: 218, h: 168, zMid: 287 };
const panels: PanelDef[] = [
  { id: 'a', left: 46, w: 254, ...R1, layers: layersA, title: 'cor(Z,u)', tx: 53, ty: 0, letter: 'a)', lx: 58, ly: 159, yLabels: true, xLabels: false },
  { id: 'b', left: 321, w: 254, ...R1, layers: layersB, title: 'cor(Z,w)', tx: 324, ty: 0, letter: 'b)', lx: 334, ly: 159, yLabels: false, xLabels: false },
  { id: 'c', left: 592, w: 255, ...R1, layers: layersC, title: "cor(Z,θ')", tx: 592, ty: 0, letter: 'c)', lx: 605, ly: 157, yLabels: false, xLabels: false },
  { id: 'd', left: 867, w: 255, ...R1, layers: layersD, title: "cor(Z,p')", tx: 862, ty: 0, letter: 'd)', lx: 880, ly: 159, yLabels: false, xLabels: false },
  { id: 'e', left: 46, w: 254, ...R2, layers: layersE, title: <>cor(Z,q{sub('c')})</>, tx: 49, ty: 197, letter: 'e)', lx: 58, ly: 357, yLabels: true, xLabels: true },
  { id: 'f', left: 321, w: 254, ...R2, layers: layersF, title: <>cor(Z,q{sub('r')})</>, tx: 323, ty: 197, letter: 'f)', lx: 332, ly: 357, yLabels: false, xLabels: true },
  { id: 'g', left: 592, w: 255, ...R2, layers: layersG, title: <>cor(Z,q{sub('i')})</>, tx: 594, ty: 197, letter: 'g)', lx: 601, ly: 357, yLabels: false, xLabels: true },
  { id: 'h', left: 867, w: 255, ...R2, layers: layersH, title: <>cor(Z,q{sub('h')})</>, tx: 859, ty: 197, letter: 'h)', lx: 877, ly: 357, yLabels: false, xLabels: true },
];

const SANS = '"Liberation Sans", Arial, sans-serif';
const GL = 46, GR = 16, GT = 10;

const BottomTick = (labels: boolean) => (p: any) => {
  const v = p.payload.value;
  const major = xMajor.includes(v);
  return (
    <g>
      <line x1={p.x} x2={p.x} y1={p.y} y2={p.y - (major ? 4 : 2.5)} stroke="#222" strokeWidth={1} />
      {labels && major ? <text x={p.x} y={p.y + 20} textAnchor="middle" fontSize={17} fontFamily={SANS} fill="#222">{v}</text> : null}
    </g>
  );
};
const TopTick = (p: any) => {
  const major = xMajor.includes(p.payload.value);
  return <line x1={p.x} x2={p.x} y1={p.y} y2={p.y + (major ? 4 : 2.5)} stroke="#222" strokeWidth={1} />;
};
const LeftTick = (labels: boolean) => (p: any) => {
  const v = p.payload.value;
  const major = zMajor.includes(v);
  return (
    <g>
      <line x1={p.x} x2={p.x + (major ? 4 : 2.5)} y1={p.y} y2={p.y} stroke="#222" strokeWidth={1} />
      {labels && major ? <text x={p.x - 3} y={p.y + 5.5} textAnchor="end" fontSize={16} fontFamily={SANS} fill="#222">{v}</text> : null}
    </g>
  );
};
const RightTick = (p: any) => {
  const major = zMajor.includes(p.payload.value);
  return <line x1={p.x} x2={p.x - (major ? 4 : 2.5)} y1={p.y} y2={p.y} stroke="#222" strokeWidth={1} />;
};
const noDot = () => <g />;

function Panel({ def }: { def: PanelDef }) {
  const GB = def.xLabels ? 43 : 8;
  const width = def.w + GL + GR;
  const height = def.h + GT + GB;
  const originY = def.top - GT;
  return (
    <div style={{ position: 'absolute', left: def.left - GL, top: originY, width, height }}>
      <ScatterChart width={width} height={height} margin={{ top: GT, right: GR, bottom: 0, left: 0 }}>
        <defs>
          {Object.entries(COLORS).map(([k, c]) => (
            <pattern key={k} id={`${def.id}-${k}`} patternUnits="userSpaceOnUse" width={16} height={7.5}>
              <rect width={16} height={7.5} fill={c} />
              <rect y={3} width={16} height={1} fill="#fff" opacity={0.2} />
            </pattern>
          ))}
        </defs>
        <XAxis xAxisId={0} type="number" dataKey="x" domain={[8, 56]} ticks={xTicks} interval={0} allowDataOverflow orientation="bottom" height={GB} tickSize={0} tickMargin={0} tickLine={false} axisLine={false} tick={BottomTick(def.xLabels)} />
        <XAxis xAxisId="top" type="number" dataKey="x" domain={[8, 56]} ticks={xTicks} interval={0} allowDataOverflow orientation="top" height={0} tickSize={0} tickMargin={0} tickLine={false} axisLine={false} tick={TopTick} />
        <YAxis yAxisId={0} type="number" dataKey="y" domain={[0, 16]} ticks={zTicks} interval={0} allowDataOverflow orientation="left" width={GL} tickSize={0} tickMargin={0} tickLine={false} axisLine={false} tick={LeftTick(def.yLabels)} />
        <YAxis yAxisId="right" type="number" dataKey="y" domain={[0, 16]} ticks={zTicks} interval={0} allowDataOverflow orientation="right" width={0} tickSize={0} tickMargin={0} tickLine={false} axisLine={false} tick={RightTick} />
        {def.layers.map((l, i) => {
          const data = l.pts.map(([x, y]) => ({ x, y }));
          let lineStyle: any;
          if (l.blank) lineStyle = { stroke: 'none', fill: '#fff' };
          else if (l.fill) lineStyle = { ...(l.edge ? STYLES[l.edge] : { stroke: 'none' }), fill: `url(#${def.id}-${l.fill})` };
          else lineStyle = STYLES[l.kind as string];
          return <Scatter key={i} data={data} line={lineStyle} lineJointType="linear" shape={noDot} isAnimationActive={false} legendType="none" />;
        })}
        <Scatter data={stormCore.map(([x, y]) => ({ x, y }))} fill="#000" shape={(p: any) => <circle cx={p.cx} cy={p.cy} r={3.6} fill="#000" />} isAnimationActive={false} legendType="none" />
        <ReferenceArea x1={8} x2={56} y1={0} y2={16} fill="none" fillOpacity={0} stroke="#222" strokeWidth={1.6} ifOverflow="visible" />
        {def.yLabels ? (
          <text x={21} y={def.zMid - originY} transform={`rotate(-90 21 ${def.zMid - originY})`} textAnchor="middle" fontSize={15} fontFamily={SANS} fill="#222">Z (km)</text>
        ) : null}
        {def.xLabels ? (
          <text x={GL + def.w / 2} y={423 - originY} textAnchor="middle" fontSize={15.5} fontFamily={SANS} fill="#222">X (km)</text>
        ) : null}
      </ScatterChart>
    </div>
  );
}

export default function App() {
  return (
    <div style={{ position: 'absolute', left: 0, top: 0, width: 1141, height: 431, background: '#fff', overflow: 'hidden' }}>
      {panels.map((def) => <Panel key={def.id} def={def} />)}
      {panels.map((def) => (
        <React.Fragment key={def.id}>
          <div style={{ position: 'absolute', left: def.tx, top: def.ty, fontFamily: SANS, fontSize: 15.5, color: '#222', whiteSpace: 'nowrap' }}>{def.title}</div>
          <div style={{ position: 'absolute', left: def.lx, top: def.ly, fontFamily: '"Liberation Serif", serif', fontSize: 21, color: '#222', whiteSpace: 'nowrap' }}>{def.letter}</div>
        </React.Fragment>
      ))}
    </div>
  );
}
